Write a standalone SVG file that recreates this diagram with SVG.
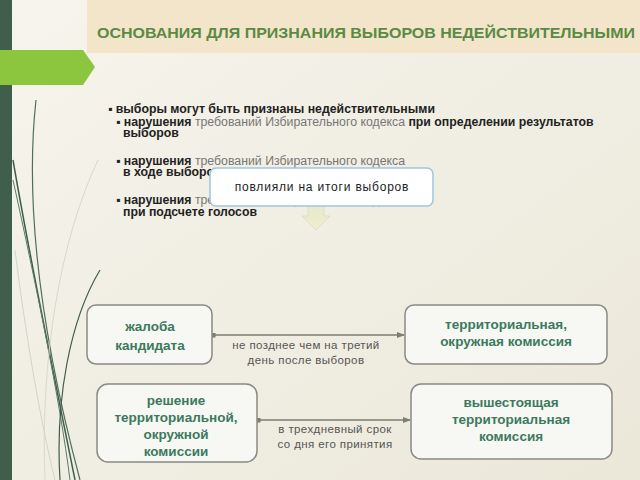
<svg xmlns="http://www.w3.org/2000/svg" width="640" height="480" viewBox="0 0 640 480">
<defs>
<linearGradient id="bg" x1="0" y1="0" x2="1" y2="1">
<stop offset="0" stop-color="#f6f4ec"/>
<stop offset="1" stop-color="#ebe8da"/>
</linearGradient>
<linearGradient id="dn" x1="0" y1="0" x2="0" y2="1">
<stop offset="0" stop-color="#e4ecc8"/>
<stop offset="1" stop-color="#f2ecd0"/>
</linearGradient>
<marker id="arr" markerWidth="8" markerHeight="6" refX="7" refY="3" orient="auto" markerUnits="userSpaceOnUse">
<path d="M0,0 L8,3 L0,6 z" fill="#7d7d72"/>
</marker>
<marker id="dot" markerWidth="5" markerHeight="5" refX="2.5" refY="2.5" markerUnits="userSpaceOnUse">
<rect x="0" y="0" width="5" height="5" fill="#7d7d72"/>
</marker>
</defs>
<style>
.node rect{fill:#f7f7f4;stroke:#8a8a84;stroke-width:1.5}
.node text{font-family:"Liberation Sans",Arial,sans-serif;font-size:13.5px;font-weight:bold;fill:#3b7a5c;text-anchor:middle}
.lbl{font-family:"Liberation Sans",Arial,sans-serif;font-size:11.5px;letter-spacing:0.4px;fill:#555;text-anchor:middle}
.bt{font-family:"Liberation Sans",Arial,sans-serif;font-size:12.3px;fill:#222}
.b{font-weight:bold}
.g{fill:#777}
.conn line{stroke:#7d7d72;stroke-width:1.5}
</style>
<rect x="0" y="0" width="640" height="480" fill="url(#bg)"/>
<!-- decorative curves -->
<g fill="none">
<path d="M36,100 C25,200 40,330 80,480" stroke="#4f6f5c" stroke-width="1.2"/>
<path d="M13,160 C30,260 55,380 75,480" stroke="#3f5e4c" stroke-width="1.5"/>
<path d="M13,180 C35,280 60,400 70,480" stroke="#5b7a66" stroke-width="1"/>
<path d="M100,270 C70,320 55,400 60,480" stroke="#3f5e4c" stroke-width="1.2"/>
<path d="M98,160 C60,240 40,360 45,480" stroke="#d8d8cc" stroke-width="1"/>
<path d="M15,250 C25,330 40,420 55,480" stroke="#cfd6c8" stroke-width="1"/>
</g>
<rect x="0" y="0" width="12" height="480" fill="#3f5e4c"/>
<rect x="87" y="0" width="553" height="53" fill="#f3e5c9"/>
<polygon points="0,50 83,50 95,67 83,85 0,85" fill="#8cc63e"/>
<text x="97" y="38" font-family="Liberation Sans,Arial,sans-serif" font-size="15" font-weight="bold" fill="#5b8a45" textLength="538" lengthAdjust="spacingAndGlyphs">ОСНОВАНИЯ ДЛЯ ПРИЗНАНИЯ ВЫБОРОВ НЕДЕЙСТВИТЕЛЬНЫМИ</text>
<!-- bullet text -->
<g id="bullets">
<text class="bt b" x="108" y="113">▪ выборы могут быть признаны недействительными</text>
<text class="bt" x="116" y="126"><tspan class="b">▪ нарушения</tspan><tspan class="g"> требований Избирательного кодекса </tspan><tspan class="b">при определении результатов</tspan></text>
<text class="bt b" x="123" y="137">выборов</text>
<text class="bt" x="116" y="165"><tspan class="b">▪ нарушения</tspan><tspan class="g"> требований Избирательного кодекса</tspan></text>
<text class="bt b" x="123" y="176">в ходе выборов</text>
<text class="bt" x="116" y="204"><tspan class="b">▪ нарушения</tspan><tspan class="g"> требований Избирательного кодекса</tspan></text>
<text class="bt b" x="123" y="216">при подсчете голосов</text>
</g>
<polygon points="308,206 324,206 324,216 330,216 316,230 302,216 308,216" fill="url(#dn)" stroke="#d8dcc0" stroke-width="0.8"/>
<g id="note">
<rect x="210" y="168" width="223" height="38" rx="6" fill="#ffffff" stroke="#9cc7e0" stroke-width="1.5"/>
<text x="322" y="191" font-family="Liberation Sans,Arial,sans-serif" font-size="12" letter-spacing="0.8" fill="#222" text-anchor="middle">повлияли на итоги выборов</text>
</g>
<g id="connectors" class="conn">
<line x1="213" y1="335" x2="404" y2="335" marker-start="url(#dot)" marker-end="url(#arr)"/>
<line x1="258" y1="420" x2="410" y2="420" marker-start="url(#dot)" marker-end="url(#arr)"/>
<text class="lbl" x="306" y="349">не позднее чем на третий</text>
<text class="lbl" x="306" y="364">день после выборов</text>
<text class="lbl" x="335" y="433">в трехдневный срок</text>
<text class="lbl" x="335" y="448">со дня его принятия</text>
</g>
<g id="n1" class="node">
<rect x="87" y="305" width="125" height="59" rx="9"/>
<text x="150" y="331">жалоба</text>
<text x="150" y="350">кандидата</text>
</g>
<g id="n2" class="node">
<rect x="405" y="305" width="202" height="59" rx="9"/>
<text x="506" y="329">территориальная,</text>
<text x="506" y="346">окружная комиссия</text>
</g>
<g id="n3" class="node">
<rect x="97" y="384" width="160" height="78" rx="11"/>
<text x="176" y="405">решение</text>
<text x="176" y="422">территориальной,</text>
<text x="176" y="439">окружной</text>
<text x="176" y="456">комиссии</text>
</g>
<g id="n4" class="node">
<rect x="411" y="384" width="201" height="75" rx="10"/>
<text x="511" y="407">вышестоящая</text>
<text x="511" y="424">территориальная</text>
<text x="511" y="441">комиссия</text>
</g>
</svg>
